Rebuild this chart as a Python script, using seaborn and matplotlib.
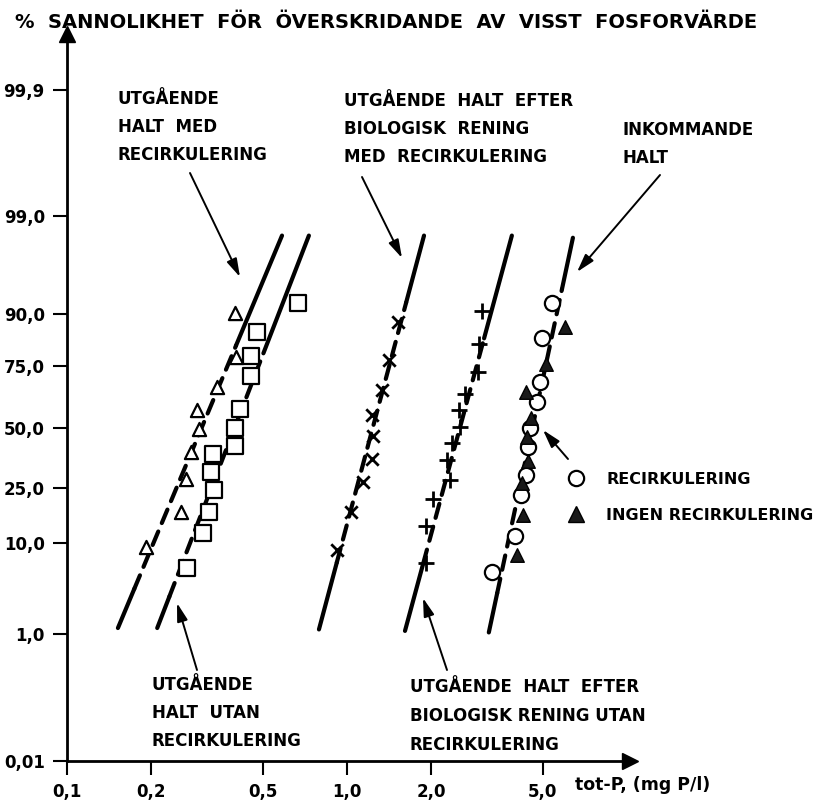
from statistics import NormalDist

import matplotlib.pyplot as plt
import numpy as np
import seaborn as sns
from matplotlib.lines import Line2D
from matplotlib.patches import FancyArrowPatch

# y ticks of the probability paper (exceedance probability, %)
Y_TICKS = [0.01, 1.0, 10.0, 25.0, 50.0, 75.0, 90.0, 99.0, 99.9]
Y_LABELS = ["0,01", "1,0", "10,0", "25,0", "50,0", "75,0", "90,0", "99,0", "99,9"]
X_TICKS = [0.1, 0.2, 0.5, 1.0, 2.0, 5.0]
X_LABELS = ["0,1", "0,2", "0,5", "1,0", "2,0", "5,0"]

# utgående halt med recirkulering (open triangles)
med_x = [0.398, 0.401, 0.343, 0.291, 0.296, 0.277, 0.266, 0.255, 0.191]
med_p = [90.2, 78.2, 67.2, 57.8, 49.6, 39.4, 28.3, 17.4, 9.2]

# utgående halt utan recirkulering (squares)
utan_x = [0.668, 0.477, 0.454, 0.454, 0.415, 0.398, 0.398, 0.332, 0.327, 0.335, 0.321, 0.306, 0.268]
utan_p = [91.9, 85.8, 78.6, 71.4, 58.2, 50.0, 42.0, 38.5, 31.0, 24.3, 17.4, 12.1, 5.8]

# efter biologisk rening med recirkulering (x)
bio_med_x = [1.52, 1.41, 1.33, 1.23, 1.24, 1.23, 1.14, 1.03, 0.92]
bio_med_p = [88.3, 77.2, 66.0, 55.6, 46.4, 36.4, 27.2, 17.4, 8.7]

# efter biologisk rening utan recirkulering (+)
bio_utan_x = [3.03, 2.96, 2.94, 2.64, 2.51, 2.53, 2.37, 2.28, 2.33, 2.03, 1.92, 1.92]
bio_utan_p = [90.6, 82.4, 72.9, 64.4, 57.8, 50.4, 43.3, 35.9, 28.0, 21.3, 13.7, 6.5]

# inkommande halt, recirkulering (open circles)
ink_rec_x = [5.40, 4.97, 4.89, 4.77, 4.50, 4.43, 4.36, 4.18, 3.98, 3.30]
ink_rec_p = [91.9, 84.2, 69.2, 61.1, 50.0, 41.5, 29.9, 22.6, 11.4, 5.3]

# inkommande halt, ingen recirkulering (filled triangles)
ink_ingen_x = [6.01, 5.14, 4.36, 4.54, 4.39, 4.43, 4.22, 4.25, 4.05]
ink_ingen_p = [87.1, 75.7, 65.2, 54.3, 46.0, 35.5, 26.8, 16.6, 7.8]

# fitted straight lines: ends in (mg P/l, %)
fit_x_lo = [0.152, 0.210, 0.794, 1.611, 3.21]
fit_x_hi = [0.586, 0.731, 1.884, 3.88, 6.41]
fit_p_lo = [1.2, 1.2, 1.15, 1.1, 1.05]
fit_p_hi = [98.3, 98.3, 98.3, 98.3, 98.2]

# hand drawn tick spacing of the paper (pixels above the 0,01 line)
POS_TICKS = np.array([0, 127, 218, 273, 333, 395, 447, 545, 671], float)

_nd = NormalDist()
_inv = np.vectorize(_nd.inv_cdf, otypes=[float])
_cdf = np.vectorize(_nd.cdf, otypes=[float])


def _extrap(x, xp, fp):
    x = np.atleast_1d(np.asarray(x, float))
    y = np.interp(x, xp, fp)
    lo, hi = x < xp[0], x > xp[-1]
    y[lo] = fp[0] + (x[lo] - xp[0]) * (fp[1] - fp[0]) / (xp[1] - xp[0])
    y[hi] = fp[-1] + (x[hi] - xp[-1]) * (fp[-1] - fp[-2]) / (xp[-1] - xp[-2])
    return y


def _z(p):
    p = np.atleast_1d(np.asarray(p, float)) / 100.0
    return _inv(np.clip(p, 1e-12, 1 - 1e-12))


Z_TICKS = _z(Y_TICKS)


def prob_forward(p):
    return _extrap(_z(p), Z_TICKS, POS_TICKS)


def prob_inverse(pos):
    return 100.0 * _cdf(_extrap(pos, POS_TICKS, Z_TICKS))


W, H = 820, 806


def fx(px):
    return px / W


def fy(py):
    return 1 - py / H


sns.set_theme(style="white")
plt.rcParams["font.family"] = ["DejaVu Sans"]
plt.rcParams["font.weight"] = "bold"
plt.rcParams["text.color"] = "black"

fig = plt.figure(figsize=(W / 100, H / 100), dpi=100)
ax = fig.add_axes([fx(67), fy(761), 563 / W, 727 / H])
ax.set_xscale("log")
ax.set_yscale("function", functions=(prob_forward, prob_inverse))
ax.set_xlim(0.1, 10.25)
ax.set_ylim(0.01, 99.97)

# fitted lines, solid at the ends and dashed through the data
solid_top = [0.28, 0.30, 0.17, 0.26, 0.13]
solid_bot = [0.10, 0.08, 0.17, 0.17, 0.10]
for i in range(len(fit_x_lo)):
    lx = np.log10([fit_x_lo[i], fit_x_hi[i]])
    ly = prob_forward([fit_p_lo[i], fit_p_hi[i]])
    cuts = [0.0, solid_bot[i], 1 - solid_top[i], 1.0]
    styles = ["-", (0, (3.5, 2.2)), "-"]
    for a, b, ls in zip(cuts[:-1], cuts[1:], styles):
        f = np.array([a, b])
        xs = 10 ** (lx[0] + (lx[1] - lx[0]) * f)
        ps = prob_inverse(ly[0] + (ly[1] - ly[0]) * f)
        ax.plot(xs, ps, color="black", lw=3.0, ls=ls,
                solid_capstyle="round", dash_capstyle="round", zorder=2)

mk = dict(ax=ax, zorder=3, legend=False)
sns.scatterplot(x=med_x, y=med_p, marker="^", s=90, facecolor="white",
                edgecolor="black", linewidth=1.6, **mk)
sns.scatterplot(x=utan_x, y=utan_p, marker="s", s=135, facecolor="white",
                edgecolor="black", linewidth=1.6, **mk)
sns.scatterplot(x=bio_med_x, y=bio_med_p, marker="x", s=80, color="black",
                linewidth=2.0, **mk)
sns.scatterplot(x=bio_utan_x, y=bio_utan_p, marker="+", s=120, color="black",
                linewidth=2.0, **mk)
sns.scatterplot(x=ink_rec_x, y=ink_rec_p, marker="o", s=120, facecolor="white",
                edgecolor="black", linewidth=1.6, **mk)
sns.scatterplot(x=ink_ingen_x, y=ink_ingen_p, marker="^", s=95, color="#1a1a1a",
                edgecolor="black", linewidth=1.0, **mk)

# axes styling
for side in ["top", "right"]:
    ax.spines[side].set_visible(False)
for side in ["left", "bottom"]:
    ax.spines[side].set_linewidth(2.0)
    ax.spines[side].set_color("black")
ax.set_xticks(X_TICKS)
ax.set_xticklabels(X_LABELS)
ax.xaxis.set_minor_locator(plt.NullLocator())
ax.set_yticks(Y_TICKS)
ax.set_yticklabels(Y_LABELS)
ax.yaxis.set_minor_locator(plt.NullLocator())
ax.tick_params(axis="both", direction="out", length=10, width=1.5,
               labelsize=12, colors="black", pad=6, left=True, bottom=True)
ax.plot(0, 1.0, marker="^", ms=12, color="black", transform=ax.transAxes, clip_on=False)
ax.plot(1.0, 0, marker=">", ms=12, color="black", transform=ax.transAxes, clip_on=False)

txt = dict(fontsize=12, fontweight="bold", va="center", ha="left",
           linespacing=1.75, color="black")
fig.text(fx(15), fy(22), "%  SANNOLIKHET  FÖR  ÖVERSKRIDANDE  AV  VISST  FOSFORVÄRDE",
         **{**txt, "fontsize": 14})
fig.text(fx(575), fy(785), "tot-P, (mg P/l)", **{**txt, "fontsize": 12.5})
fig.text(fx(118), fy(127), "UTGÅENDE\nHALT  MED\nRECIRKULERING", **txt)
fig.text(fx(344), fy(129), "UTGÅENDE  HALT  EFTER\nBIOLOGISK  RENING\nMED  RECIRKULERING", **txt)
fig.text(fx(623), fy(144), "INKOMMANDE\nHALT", **txt)
fig.text(fx(152), fy(713), "UTGÅENDE\nHALT  UTAN\nRECIRKULERING", **txt)
fig.text(fx(410), fy(716), "UTGÅENDE  HALT  EFTER\nBIOLOGISK RENING UTAN\nRECIRKULERING", **txt)

arrows = [((190, 173), (240, 277)), ((362, 177), (402, 258)), ((660, 175), (577, 272)),
          ((197, 670), (177, 603)), ((447, 670), (423, 598)), ((568, 459), (543, 430))]
for (tx, ty), (hx, hy) in arrows:
    fig.add_artist(FancyArrowPatch(
        (fx(tx), fy(ty)), (fx(hx), fy(hy)), transform=fig.transFigure,
        arrowstyle="-|>,head_length=1.1,head_width=0.32", mutation_scale=10,
        color="black", lw=1.4, shrinkA=0, shrinkB=0))

handles = [
    Line2D([], [], ls="none", marker="o", ms=11, mfc="white", mec="black", mew=1.6),
    Line2D([], [], ls="none", marker="^", ms=11, mfc="#1a1a1a", mec="black"),
]
leg = fig.legend(handles, ["RECIRKULERING", "INGEN RECIRKULERING"], loc="upper left",
                 bbox_to_anchor=(fx(568), fy(472)), frameon=False,
                 handlelength=1.0, handletextpad=1.4, labelspacing=1.3,
                 borderpad=0, borderaxespad=0, prop={"weight": "bold", "size": 11.5})
for t in leg.get_texts():
    t.set_color("black")

fig.savefig("out.png", dpi=100, facecolor="white")
